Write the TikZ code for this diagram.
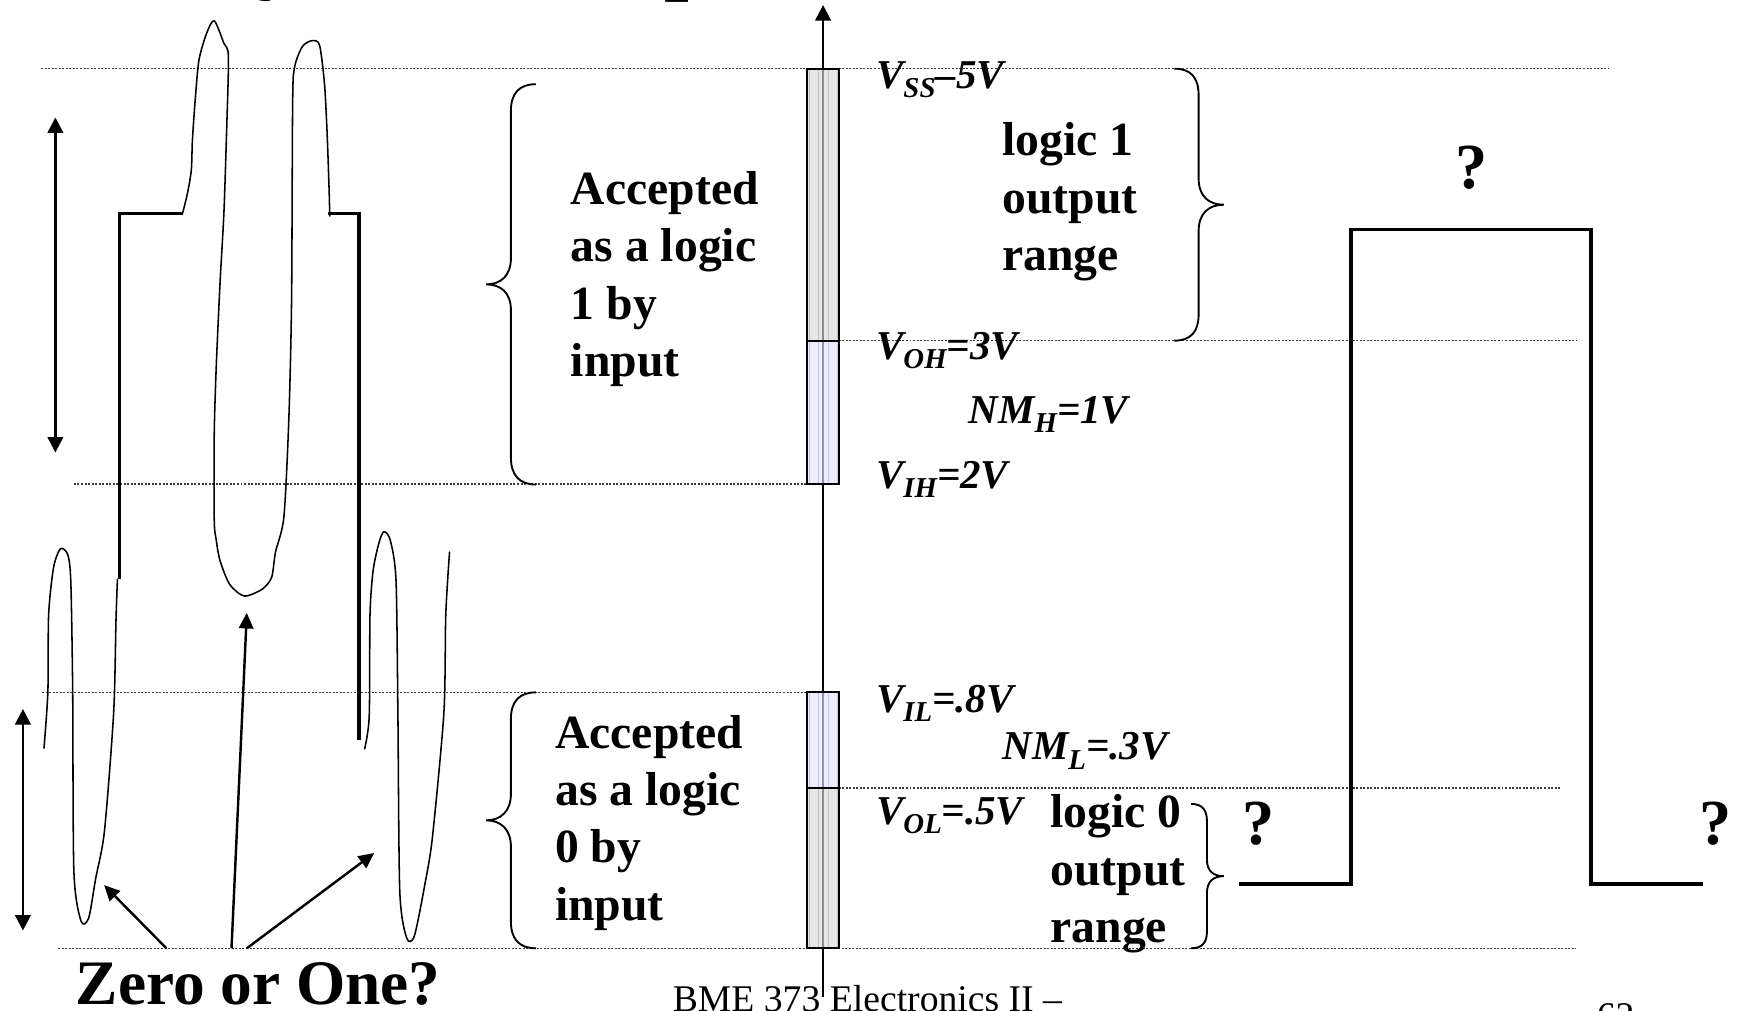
\documentclass[tikz,border=0pt]{standalone}
\usepackage{fontspec}
\setmainfont{Liberation Serif}
\usetikzlibrary{arrows.meta}
\definecolor{barGray}{HTML}{DADADA}
\definecolor{barBlue}{HTML}{E4E4FF}
\definecolor{gridGray}{HTML}{C2C2C2}
\definecolor{gridBlue}{HTML}{C6C6F0}
\definecolor{dotGray}{HTML}{3A3A3A}
% italic level label with a lowered subscript
\newcommand{\lvl}[3]{{\bfseries\itshape #1\raisebox{-4.2pt}{\fontsize{13}{13}\selectfont #2}#3}}
\begin{document}
\begin{tikzpicture}[x=0.5pt,y=-0.5pt,
  level/.style={draw=dotGray,line width=0.6pt,dash pattern=on 0.9pt off 0.7pt},
  pulse/.style={line width=1.6pt,line join=miter},
  noise/.style={line width=0.7pt,line join=round,line cap=round},
  brace/.style={line width=0.85pt},
  pointer/.style={line width=1.1pt,-{Triangle[length=7pt,width=6.5pt]}},
  span/.style={line width=1.1pt,{Triangle[length=7pt,width=7pt]}-{Triangle[length=7pt,width=7pt]}},
  btxt/.style={font=\fontsize{21.5}{26}\selectfont\bfseries,inner sep=0pt,anchor=base west},
  vtxt/.style={font=\fontsize{18.5}{22}\selectfont,inner sep=0pt,anchor=base west},
  qtxt/.style={font=\fontsize{29}{34}\selectfont\bfseries,inner sep=0pt,anchor=base},
  bigtxt/.style={font=\fontsize{28.6}{34}\selectfont\bfseries,inner sep=0pt,anchor=base west},
  titletxt/.style={font=\fontsize{40}{46}\selectfont\bfseries,inner sep=0pt,anchor=base west},
  foot/.style={font=\fontsize{17}{20}\selectfont,inner sep=0pt,anchor=base west}]
\useasboundingbox (0,0) rectangle (1568,912);
\clip (0,0) rectangle (1568,912);
\fill[white] (0,0) rectangle (1568,912);

% descenders of the heading above the frame
\node[titletxt] (hy) at (232,-16) {y};
\node[titletxt] (hp) at (599,-15) {p};

% dotted threshold levels
\coordinate (l1a) at (37,62);     \coordinate (l1b) at (1452,62);
\coordinate (l2a) at (757,307.5); \coordinate (l2b) at (1423,307.5);
\coordinate (l3a) at (66.7,437);  \coordinate (l3b) at (728.5,437);
\coordinate (l4a) at (38,625);    \coordinate (l4b) at (728.5,625);
\coordinate (l5a) at (757,711.4); \coordinate (l5b) at (1408,711.4);
\coordinate (l6a) at (52.5,856);  \coordinate (l6b) at (1423,856);
\foreach \a/\b in {l1a/l1b,l2a/l2b,l3a/l3b,l4a/l4b,l5a/l5b,l6a/l6b}
  \draw[level] (\a) -- (\b);

% voltage axis
\coordinate (axbot) at (743,900);
\coordinate (axtop) at (743,4.5);
\draw[line width=1.1pt,-{Triangle[length=7pt,width=7pt]}] (axbot) -- (axtop);

% shaded bands on the axis
\fill[barGray,fill opacity=0.65] (728.5,62) rectangle (757,307.5);
\fill[barBlue,fill opacity=0.65] (728.5,307.5) rectangle (757,437);
\fill[barBlue,fill opacity=0.65] (728.5,625) rectangle (757,711.4);
\fill[barGray,fill opacity=0.65] (728.5,711.4) rectangle (757,856);
\begin{scope}[line width=0.3pt]
  \clip (728.5,62) rectangle (757,307.5);
  \draw[gridGray,xshift=-4.5pt] (700,0) grid[xstep=8.5,ystep=9] (800,320);
\end{scope}
\begin{scope}[line width=0.3pt]
  \clip (728.5,307.5) rectangle (757,437);
  \draw[gridBlue,xshift=-4.5pt] (700,300) grid[xstep=8.5,ystep=9] (800,450);
\end{scope}
\begin{scope}[line width=0.3pt]
  \clip (728.5,625) rectangle (757,711.4);
  \draw[gridBlue,xshift=-4.5pt] (700,612) grid[xstep=8.5,ystep=9] (800,720);
\end{scope}
\begin{scope}[line width=0.3pt]
  \clip (728.5,711.4) rectangle (757,856);
  \draw[gridGray,xshift=-4.5pt] (700,702) grid[xstep=8.5,ystep=9] (800,870);
\end{scope}
\draw[line width=0.9pt] (728.5,62) rectangle (757,307.5);
\draw[line width=0.9pt] (728.5,307.5) rectangle (757,437);
\draw[line width=0.9pt] (728.5,625) rectangle (757,711.4);
\draw[line width=0.9pt] (728.5,711.4) rectangle (757,856);

% ideal input pulse
\coordinate (p1) at (107.8,523);
\coordinate (p2) at (107.8,192.6);
\coordinate (p3) at (164.8,192.6);
\coordinate (p4) at (296.4,192.6);
\coordinate (p5) at (324,192.6);
\coordinate (p6) at (324,667.7);
\draw[pulse] (p1) -- (p2) -- (p3);
\draw[pulse] (p4) -- (p5) -- (p6);

% noisy input signal
\draw[noise] plot[smooth,tension=0.45] coordinates {
  (39.7,675.3) (43.2,625) (43.9,554.8) (48.4,512) (54.6,495.3) (61.1,500.5)
  (63.9,524.3) (65.6,621.9) (66.7,786.7) (73.2,831.6) (80.1,828.5) (86.4,792.8)
  (94.3,750.1) (102.6,643.3) (104.7,560) (106,523)};
\draw[noise] plot[smooth,tension=0.45] coordinates {
  (164.8,192.6) (169.2,174.6) (172.7,153.5) (173.7,126.4) (176.2,90.3) (179.6,54.2)
  (186.5,30.1) (193.4,18.7) (202.1,39.1) (206.2,51.2) (204.5,120.4) (202.1,192.6)
  (198.6,255.9) (195.2,331.1) (193.4,391.3) (193.4,469.6) (195.2,487.6) (198.6,506)
  (207.2,527.3) (220.4,538) (236.6,531.9) (245.2,521.2) (248.7,498.3) (256.3,466.3)
  (260.8,376.3) (263.2,270.9) (264.2,90.3) (266,60.2) (272.9,42.1) (281.5,36.7)
  (288.4,40.6) (292.9,75.3) (295.3,120.4) (297,168.6) (297.7,195)};
\draw[noise] plot[smooth,tension=0.45] coordinates {
  (329.2,675.9) (333.3,646.3) (334,554.8) (336.8,515.1) (341.9,490.7) (346.4,480)
  (352.3,487.6) (357.5,524.3) (359.2,646.3) (360.9,805) (367.2,846.9) (374.1,844.7)
  (383.4,799) (390.3,756.2) (400.7,643.3) (402.4,554.8) (405.8,498.3)};

% swing arrows
\coordinate (s1a) at (50,106);   \coordinate (s1b) at (50,408.5);
\coordinate (s2a) at (20.7,640); \coordinate (s2b) at (20.7,840);
\draw[span] (s1a) -- (s1b);
\draw[span] (s2a) -- (s2b);

% question and pointers
\node[bigtxt] (zo) at (68,906.5) {Zero or One?};
\coordinate (z1) at (150.2,856); \coordinate (t1) at (94,799);
\coordinate (z2) at (209,856);   \coordinate (t2) at (222.8,553.3);
\coordinate (z3) at (222.8,856); \coordinate (t3) at (337.8,770);
\draw[pointer] (z1) -- (t1);
\draw[pointer] (z2) -- (t2);
\draw[pointer] (z3) -- (t3);

% input acceptance braces
\draw[brace] (483.7,76) .. controls (469,76) and (461.2,84) .. (461.2,100)
  -- (461.2,233) .. controls (461.2,249) and (452,256.7) .. (438.8,256.7)
  .. controls (452,256.7) and (461.2,264) .. (461.2,280)
  -- (461.2,413) .. controls (461.2,429) and (469,437.4) .. (483.7,437.4);
\draw[brace] (483.7,625) .. controls (469,625) and (461.2,633) .. (461.2,649)
  -- (461.2,716.5) .. controls (461.2,732.5) and (452,740.5) .. (438.8,740.5)
  .. controls (452,740.5) and (461.2,748.5) .. (461.2,764.5)
  -- (461.2,832) .. controls (461.2,848) and (469,856) .. (483.7,856);

\node[btxt] (a1) at (515,184.2) {Accepted};
\node[btxt] (a2) at (515,236) {as a logic};
\node[btxt] (a3) at (515,288) {1 by};
\node[btxt] (a4) at (515,340) {input};
\node[btxt] (b1) at (500.8,675.3) {Accepted};
\node[btxt] (b2) at (500.8,727.2) {as a logic};
\node[btxt] (b3) at (500.8,779) {0 by};
\node[btxt] (b4) at (500.8,831) {input};

% output range braces
\draw[brace] (1060,62) .. controls (1075,62) and (1082,70) .. (1082,86)
  -- (1082,161) .. controls (1082,177) and (1091,184.8) .. (1104.7,184.8)
  .. controls (1091,184.8) and (1082,192.6) .. (1082,208.6)
  -- (1082,283.5) .. controls (1082,299.5) and (1075,307.5) .. (1060,307.5);
\draw[brace] (1075.3,725.7) .. controls (1085,725.7) and (1089.5,731) .. (1089.5,741)
  -- (1089.5,776) .. controls (1089.5,786) and (1095,790.9) .. (1104.7,790.9)
  .. controls (1095,790.9) and (1089.5,796) .. (1089.5,806)
  -- (1089.5,841) .. controls (1089.5,851) and (1085,856) .. (1075.3,856);

\node[btxt] (o1) at (904.5,140.8) {logic 1};
\node[btxt] (o2) at (904.5,192.6) {output};
\node[btxt] (o3) at (904.5,244.4) {range};
\node[btxt] (z01) at (948,747) {logic 0};
\node[btxt] (z02) at (948,799) {output};
\node[btxt] (z03) at (948,850.8) {range};

% level labels
\node[vtxt] (vss) at (790.5,79.7) {\lvl{V}{SS}{–5V}};
\node[vtxt] (voh) at (790.5,324.4) {\lvl{V}{OH}{=3V}};
\node[vtxt] (nmh) at (874,382.2) {\lvl{NM}{H}{=1V}};
\node[vtxt] (vih) at (790.5,440.9) {\lvl{V}{IH}{=2V}};
\node[vtxt] (vil) at (790.5,643.3) {\lvl{V}{IL}{=.8V}};
\node[vtxt] (nml) at (904.5,686) {\lvl{NM}{L}{=.3V}};
\node[vtxt] (vol) at (790.5,744) {\lvl{V}{OL}{=.5V}};

% output pulse
\coordinate (q1) at (1118.5,798);
\coordinate (q2) at (1219.6,798);
\coordinate (q3) at (1219.6,207);
\coordinate (q4) at (1436.3,207);
\coordinate (q5) at (1436.3,798);
\coordinate (q6) at (1537.3,798);
\draw[pulse] (q1) -- (q2) -- (q3) -- (q4) -- (q5) -- (q6);
\node[qtxt] (qm1) at (1328,170) {?};
\node[qtxt] (qm2) at (1136,762) {?};
\node[qtxt] (qm3) at (1548.5,762) {?};

% footer
\node[foot] (ft) at (607,913) {BME 373 Electronics II –};
\node[foot] (pg) at (1441,928.5) {62};
\end{tikzpicture}
\end{document}
